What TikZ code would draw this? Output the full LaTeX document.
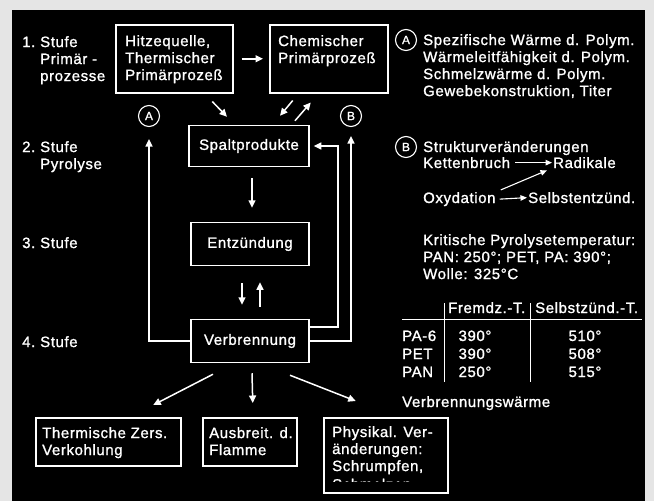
\documentclass[tikz,border=0pt]{standalone}
\usepackage{fontspec}
\setmainfont{Liberation Sans}[LetterSpace=4, FakeBold=1.2]
\usetikzlibrary{arrows.meta}
\newcommand{\nr}[1]{\makebox[18pt][l]{#1}}

\begin{document}
\begin{tikzpicture}[%
        x=1pt, y=-1pt,
        every node/.style={text=white, font=\fontsize{15}{17}\selectfont},
        mybox/.style={draw=white, line width=1.5pt, inner sep=0pt},
        mytext/.style={anchor=north west, align=left, inner sep=0pt},
        myword/.style={anchor=base west, inner sep=0pt},
        mymark/.style={shape=circle, draw=white, line width=1.1pt, minimum size=21pt, inner sep=0pt, font=\fontsize{12}{12}\selectfont},
        myarrow/.style={white, line width=1.5pt, -{Triangle[width=7pt,length=7.5pt]}},
        mythin/.style={white, line width=1.1pt, -{Triangle[width=5.5pt,length=6.5pt]}}
    ]
    \useasboundingbox (0,0) rectangle (654,501);
    \fill[black!10] (0,0) rectangle (654,501);
    \fill[black] (12,10) rectangle (645,501);

    % Stufen
    \node[mytext] (stufe1) at (22,36) {\nr{1.}Stufe\\\nr{}Primär -\\\nr{}prozesse};
    \node[mytext] (stufe2) at (22,141) {\nr{2.}Stufe\\\nr{}Pyrolyse};
    \node[mytext] (stufe3) at (22,237) {\nr{3.}Stufe};
    \node[mytext] (stufe4) at (22,336) {\nr{4.}Stufe};

    % Kaesten
    \node[mybox, anchor=north west, minimum width=117pt, minimum height=68pt] (hitze) at (115,24) {};
    \node[mytext] (hitzetext) at ([shift={(10,11)}]hitze.north west) {Hitzequelle,\\Thermischer\\Primärprozeß};
    \node[mybox, anchor=north west, minimum width=118pt, minimum height=68pt] (chem) at (269,24) {};
    \node[mytext] (chemtext) at ([shift={(9,11)}]chem.north west) {Chemischer\\Primärprozeß};
    \node[mybox, minimum width=120pt, minimum height=41pt] (spalt) at (249,146) {Spaltprodukte};
    \node[mybox, minimum width=118pt, minimum height=43pt] (entz) at (250,244) {Entzündung};
    \node[mybox, minimum width=118pt, minimum height=43pt] (verb) at (250,341) {Verbrennung};
    \node[mybox, anchor=north west, minimum width=145pt, minimum height=48pt] (therm) at (35,417) {};
    \node[mytext] (thermtext) at ([shift={(7,10)}]therm.north west) {Thermische Zers.\\Verkohlung};
    \node[mybox, anchor=north west, minimum width=94pt, minimum height=48pt] (ausb) at (202,417) {};
    \node[mytext] (ausbtext) at ([shift={(7,10)}]ausb.north west) {Ausbreit. d.\\Flamme};
    \node[mybox, anchor=north west, minimum width=124pt, minimum height=75pt] (phys) at (323,417) {};
    \node[mytext] (phystext) at ([shift={(9,9)}]phys.north west) {Physikal. Ver-\\änderungen:\\Schrumpfen,};
    \begin{scope}
        \clip (325,477) rectangle (445,481.5);
        \node[mytext] (physcut) at (332,478.5) {Schmelzen};
    \end{scope}

    % Marken
    \node[mymark] (markA) at (149,116) {A};
    \node[mymark] (markB) at (351,116) {B};

    % Pfeile
    \draw[myarrow] ([xshift=8pt]hitze.east) -- ([xshift=-6pt]chem.west);
    \draw[myarrow] ([shift={(38,8)}]hitze.south) -- ([shift={(-22,-8)}]spalt.north);
    \draw[myarrow] ([shift={(-36,7)}]chem.south) -- ([shift={(31,-9)}]spalt.north);
    \draw[myarrow] ([shift={(46,-4)}]spalt.north) -- ([shift={(-18,9)}]chem.south);
    \draw[myarrow] ([shift={(3,11)}]spalt.south) -- ([shift={(2,-14)}]entz.north);
    \draw[myarrow] ([shift={(-8,17)}]entz.south) -- ([shift={(-8,-14)}]verb.north);
    \draw[myarrow] ([shift={(10,-12)}]verb.north) -- ([shift={(10,16)}]entz.south);
    \draw[myarrow] (verb.west) -| ([yshift=-12pt]markA.south);
    \draw[myarrow] ([shift={(0,-14)}]verb.east) -- ++(28,0) |- ([xshift=4pt]spalt.east);
    \draw[myarrow] (verb.east) -| ([yshift=-9pt]markB.south);
    \draw[myarrow] ([shift={(-37,11)}]verb.south) -- ([shift={(45,-12)}]therm.north);
    \draw[myarrow] ([shift={(2,10)}]verb.south) -- ([shift={(3,-14)}]ausb.north);
    \draw[myarrow] ([shift={(40,12)}]verb.south) -- ([shift={(-30,-16)}]phys.north);

    % Legende
    \node[mymark] (legA) at (406,40) {A};
    \node[mytext] (legAtext) at (423,34) {Spezifische Wärme d. Polym.\\Wärmeleitfähigkeit d. Polym.\\Schmelzwärme d. Polym.\\Gewebekonstruktion, Titer};
    \node[mymark] (legB) at (406,147) {B};
    \node[myword] (struktur) at (423,152) {Strukturveränderungen};
    \node[myword] (ketten) at (423,168) {Kettenbruch};
    \node[myword] (radikale) at (553,168) {Radikale};
    \node[myword] (oxyd) at (423,203) {Oxydation};
    \node[myword] (selbst) at (528,203) {Selbstentzünd.};
    \draw[mythin] ([xshift=5pt]ketten.east) -- ([xshift=-1pt]radikale.west);
    \draw[mythin] ([xshift=4pt]oxyd.east) -- ([xshift=-1pt]selbst.west);
    \draw[mythin] ([shift={(5,-2)}]oxyd.north east) -- ([shift={(-6,2)}]radikale.south west);

    \node[mytext] (kritisch) at (423,234) {Kritische Pyrolysetemperatur:\\PAN: 250°; PET, PA: 390°;\\Wolle: 325°C};

    % Tabelle
    \node[myword] (kopf1) at (448,313) {Fremdz.-T.};
    \node[myword] (kopf2) at (535,313) {Selbstzünd.-T.};
    \draw[white, line width=1pt] (402,319) -- (642,319);
    \draw[white, line width=1pt] (444,303) -- (444,382) (530,303) -- (530,382);
    \foreach \stoff/\fremd/\eigen [count=\i] in {PA-6/390/510, PET/390/508, PAN/250/515} {
        \node[myword] (stoff\i) at (402,323+18*\i) {\stoff};
        \node[anchor=base, inner sep=0pt] (fremd\i) at (475,323+18*\i) {\fremd{}°};
        \node[anchor=base, inner sep=0pt] (eigen\i) at (585,323+18*\i) {\eigen{}°};
    }
    \node[myword] (waerme) at (402,407) {Verbrennungswärme};
\end{tikzpicture}
\end{document}
